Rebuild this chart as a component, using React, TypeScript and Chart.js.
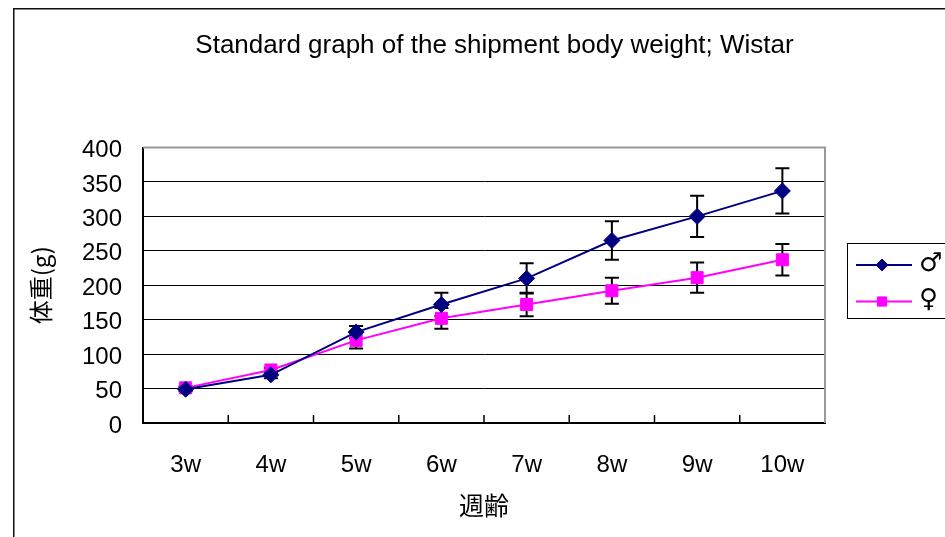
import React, { useEffect, useRef } from 'react';
import { Chart, registerables } from 'chart.js';
import { drawPoint } from 'chart.js/helpers';

Chart.register(...registerables);

const weeks = ['3w', '4w', '5w', '6w', '7w', '8w', '9w', '10w'];
const maleMeans = [49, 70, 132, 172, 210, 265, 300, 337];
const maleSD = [3, 5, 9, 17, 22, 28, 30, 33];
const femaleMeans = [51, 77, 120, 152, 172, 192, 211, 237];
const femaleSD = [2, 3, 12, 15, 17, 19, 22, 23];
const seriesNames = ['♂', '♀'];
const seriesColors = ['#000080', '#FF00FF'];
const seriesPointStyles = ['rectRot', 'rect'];
const titleText = 'Standard graph of the shipment body weight; Wistar';
const xTitleText = '週齢';
const yTitleText = '体重(g)';
const yMin = 0;
const yMax = 400;
const yStep = 50;

const errors = [maleSD, femaleSD];

const errorBarPlugin = {
  id: 'errorBars',
  beforeDatasetsDraw(chart: any) {
    const ctx = chart.ctx;
    const yScale = chart.scales.y;
    ctx.save();
    ctx.strokeStyle = '#000';
    ctx.lineWidth = 2;
    chart.data.datasets.forEach((ds: any, i: number) => {
      const meta = chart.getDatasetMeta(i);
      meta.data.forEach((pt: any, j: number) => {
        const v = ds.data[j];
        const e = errors[i][j];
        const yt = yScale.getPixelForValue(v + e);
        const yb = yScale.getPixelForValue(v - e);
        const x = pt.x;
        ctx.beginPath();
        ctx.moveTo(x, yt);
        ctx.lineTo(x, yb);
        ctx.moveTo(x - 7, yt);
        ctx.lineTo(x + 7, yt);
        ctx.moveTo(x - 7, yb);
        ctx.lineTo(x + 7, yb);
        ctx.stroke();
      });
    });
    ctx.restore();
  },
};

const framePlugin = {
  id: 'frame',
  afterDraw(chart: any) {
    const ctx = chart.ctx;
    const { left, right, top, bottom } = chart.chartArea;
    const xScale = chart.scales.x;
    ctx.save();
    // outer frame
    ctx.strokeStyle = '#111';
    ctx.lineWidth = 1.5;
    ctx.beginPath();
    ctx.moveTo(0.75, chart.height);
    ctx.lineTo(0.75, 0.75);
    ctx.lineTo(chart.width, 0.75);
    ctx.stroke();
    // plot top/right border
    ctx.strokeStyle = '#999';
    ctx.lineWidth = 2;
    ctx.beginPath();
    ctx.moveTo(left, top);
    ctx.lineTo(right, top);
    ctx.lineTo(right, bottom);
    ctx.stroke();
    // inner category ticks
    ctx.strokeStyle = '#000';
    ctx.lineWidth = 1.5;
    ctx.beginPath();
    for (let i = 1; i < weeks.length; i++) {
      const x = (xScale.getPixelForTick(i - 1) + xScale.getPixelForTick(i)) / 2;
      ctx.moveTo(x, bottom);
      ctx.lineTo(x, bottom - 8);
    }
    ctx.stroke();
    // legend
    const bx = 834;
    const by = 235.5;
    ctx.fillStyle = '#fff';
    ctx.fillRect(bx, by, 200, 75);
    ctx.strokeStyle = '#000';
    ctx.lineWidth = 1;
    ctx.strokeRect(bx + 0.5, by, 200, 75);
    const rows = [257, 293.5];
    chart.data.datasets.forEach((ds: any, i: number) => {
      const y = rows[i];
      ctx.strokeStyle = ds.borderColor;
      ctx.lineWidth = 2;
      ctx.beginPath();
      ctx.moveTo(843, y);
      ctx.lineTo(899, y);
      ctx.stroke();
      ctx.fillStyle = ds.backgroundColor;
      ctx.strokeStyle = ds.borderColor;
      ctx.lineWidth = 1;
      drawPoint(ctx, { pointStyle: ds.pointStyle, radius: i === 0 ? 6 : 6.5, borderWidth: 1, rotation: 0 } as any, 869, y);
      ctx.fillStyle = '#000';
      ctx.font = '26px "DejaVu Sans"';
      ctx.textBaseline = 'middle';
      ctx.textAlign = 'left';
      ctx.fillText(ds.label, 906, y - 1);
    });
    ctx.restore();
  },
};

export default function App() {
  const ref = useRef<HTMLCanvasElement>(null);
  useEffect(() => {
    const chart = new Chart(ref.current as HTMLCanvasElement, {
      type: 'line',
      data: {
        labels: weeks,
        datasets: [
          {
            label: seriesNames[0],
            data: maleMeans,
            borderColor: seriesColors[0],
            backgroundColor: seriesColors[0],
            borderWidth: 2,
            pointStyle: seriesPointStyles[0] as any,
            pointRadius: 8,
            pointBorderWidth: 1,
            tension: 0,
          },
          {
            label: seriesNames[1],
            data: femaleMeans,
            borderColor: seriesColors[1],
            backgroundColor: seriesColors[1],
            borderWidth: 2,
            pointStyle: seriesPointStyles[1] as any,
            pointRadius: 8.5,
            pointBorderWidth: 1,
            tension: 0,
          },
        ],
      },
      options: {
        responsive: false,
        animation: false,
        events: [],
        layout: { padding: { top: 0, left: 0, right: 0, bottom: 0 } },
        plugins: {
          legend: { display: false },
          tooltip: { enabled: false },
          title: {
            display: true,
            text: titleText,
            color: '#000',
            font: { family: '"Liberation Sans", Arial, sans-serif', size: 26, weight: 'normal' },
            padding: { top: 22.5, bottom: 85.8 },
          },
        },
        scales: {
          x: {
            type: 'category',
            offset: true,
            grid: { display: true, drawOnChartArea: false, drawTicks: false },
            border: { display: true, color: '#000', width: 2 },
            ticks: {
              color: '#000',
              padding: 28,
              font: { family: '"Liberation Sans", Arial, sans-serif', size: 24 },
              maxRotation: 0,
            },
            title: {
              display: true,
              text: xTitleText,
              color: '#000',
              font: { family: '"Noto Sans CJK JP", sans-serif', size: 25 },
              padding: { top: 0, bottom: 17 },
            },
            afterFit(scale: any) {
              scale.height = 114;
            },
          },
          y: {
            type: 'linear',
            min: yMin,
            max: yMax,
            grid: {
              color: (c: any) => (c.tick && c.tick.value === yMax ? '#999' : '#000'),
              lineWidth: 1,
              drawTicks: false,
            },
            border: { display: true, color: '#000', width: 2 },
            ticks: {
              stepSize: yStep,
              color: '#000',
              padding: 21,
              labelOffset: 3,
              font: { family: '"Liberation Sans", Arial, sans-serif', size: 24 },
            },
            title: {
              display: true,
              text: yTitleText,
              color: '#000',
              font: { family: '"Noto Sans CJK JP", sans-serif', size: 24 },
              padding: { top: 13, bottom: 0 },
            },
            afterFit(scale: any) {
              scale.width = 130;
            },
          },
          yRight: {
            type: 'linear',
            position: 'right',
            display: true,
            grid: { display: false, drawTicks: false },
            border: { display: false },
            ticks: { display: false },
            afterFit(scale: any) {
              scale.width = 151;
            },
          },
        },
      },
      plugins: [errorBarPlugin, framePlugin],
    });
    return () => chart.destroy();
  }, []);
  return (
    <div style={{ position: 'fixed', left: 0, top: 0, width: 945, height: 537, overflow: 'hidden', background: '#fff' }}>
      <div style={{ position: 'absolute', left: 13, top: 8 }}>
        <canvas ref={ref} width={963} height={529} style={{ display: 'block' }} />
      </div>
    </div>
  );
}
